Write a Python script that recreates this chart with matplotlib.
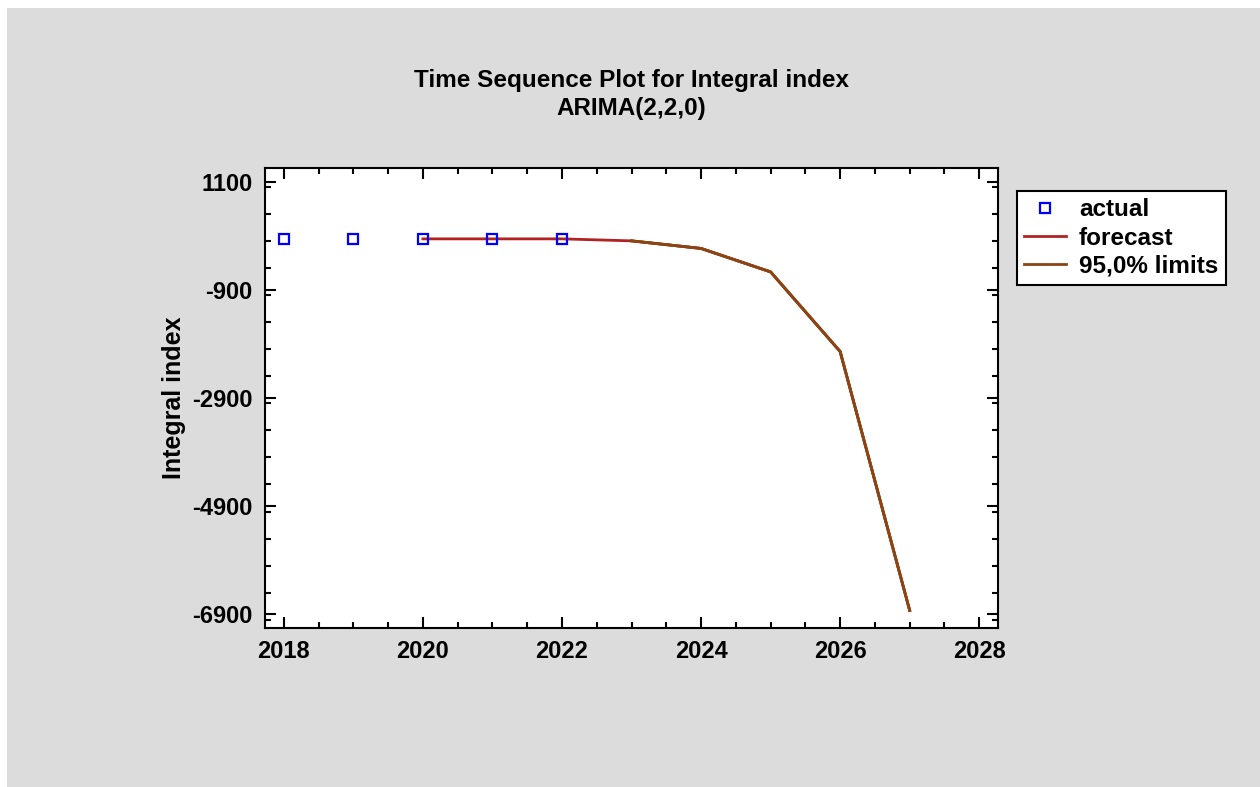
import matplotlib
matplotlib.use("Agg")
import matplotlib.pyplot as plt
from matplotlib.patches import Rectangle
from matplotlib.ticker import MultipleLocator, FixedLocator

plt.rcParams['font.family'] = ['Liberation Sans', 'DejaVu Sans']
plt.rcParams['font.weight'] = 'bold'
plt.rcParams['axes.unicode_minus'] = False

# ---------- data ----------
actual_years = [2018, 2019, 2020, 2021, 2022]
actual_vals = [44, 44, 44, 44, 44]

forecast_years = [2020, 2021, 2022, 2023, 2024, 2025, 2026, 2027]
forecast_vals = [44, 44, 44, 7, -133, -567, -2040, -6830]

limit_years = [2023, 2024, 2025, 2026, 2027]
upper_vals = [7, -133, -567, -2040, -6830]
lower_vals = [7, -133, -567, -2040, -6830]

y_ticks = [1100, -900, -2900, -4900, -6900]
x_ticks = [2018, 2020, 2022, 2024, 2026, 2028]

# ---------- figure ----------
fig = plt.figure(figsize=(12.6, 7.87), dpi=100, facecolor='white')
fig.add_artist(Rectangle((7 / 1260, 0), 1, 1 - 8 / 787, transform=fig.transFigure,
                         facecolor='#DCDCDC', edgecolor='none', zorder=-10))

ax = fig.add_axes([265 / 1260, 1 - 628 / 787, 733 / 1260, 460 / 787])
ax.set_facecolor('white')

ax.plot(actual_years, actual_vals, linestyle='none', marker='s', markersize=7,
        markerfacecolor='none', markeredgecolor='#0000FF', markeredgewidth=1.6,
        label='actual', zorder=4)
ax.plot(forecast_years, forecast_vals, color='#B22222', linewidth=2, label='forecast', zorder=2)
ax.plot(limit_years, upper_vals, color='#8B4513', linewidth=2, label='95,0% limits', zorder=3)
ax.plot(limit_years, lower_vals, color='#8B4513', linewidth=2, zorder=3)

ax.set_xlim(2017.73, 2028.27)
ax.set_ylim(-7155, 1355)
ax.xaxis.set_major_locator(FixedLocator(x_ticks))
ax.xaxis.set_minor_locator(MultipleLocator(0.5))
ax.yaxis.set_major_locator(FixedLocator(y_ticks))
ax.yaxis.set_minor_locator(MultipleLocator(500))

for s in ax.spines.values():
    s.set_linewidth(1.5)
ax.tick_params(which='both', direction='in', top=True, right=True, width=1.5)
ax.tick_params(which='major', length=8, labelsize=17, pad=9)
ax.tick_params(which='minor', length=4)
for lab in ax.get_xticklabels() + ax.get_yticklabels():
    lab.set_fontweight('bold')

ax.set_ylabel('Integral index', fontsize=18, fontweight='bold')
ax.yaxis.set_label_coords(-0.108, 0.5)

fig.text(631.5 / 1260, 1 - 80 / 787, 'Time Sequence Plot for Integral index',
         ha='center', va='center', fontsize=17.5, fontweight='bold')
fig.text(631.5 / 1260, 1 - 108 / 787, 'ARIMA(2,2,0)',
         ha='center', va='center', fontsize=17.5, fontweight='bold')

leg = ax.legend(loc='upper left', bbox_to_anchor=(1017 / 1260, 1 - 191 / 787),
                bbox_transform=fig.transFigure, frameon=True, fancybox=False,
                framealpha=1, edgecolor='black', fontsize=17.5, handlelength=1.7,
                handletextpad=0.55, borderpad=0.3, borderaxespad=0,
                labelspacing=0.22)
leg.get_frame().set_linewidth(1.5)
for t in leg.get_texts():
    t.set_fontweight('bold')

fig.savefig('out.png', dpi=100, facecolor=fig.get_facecolor())
